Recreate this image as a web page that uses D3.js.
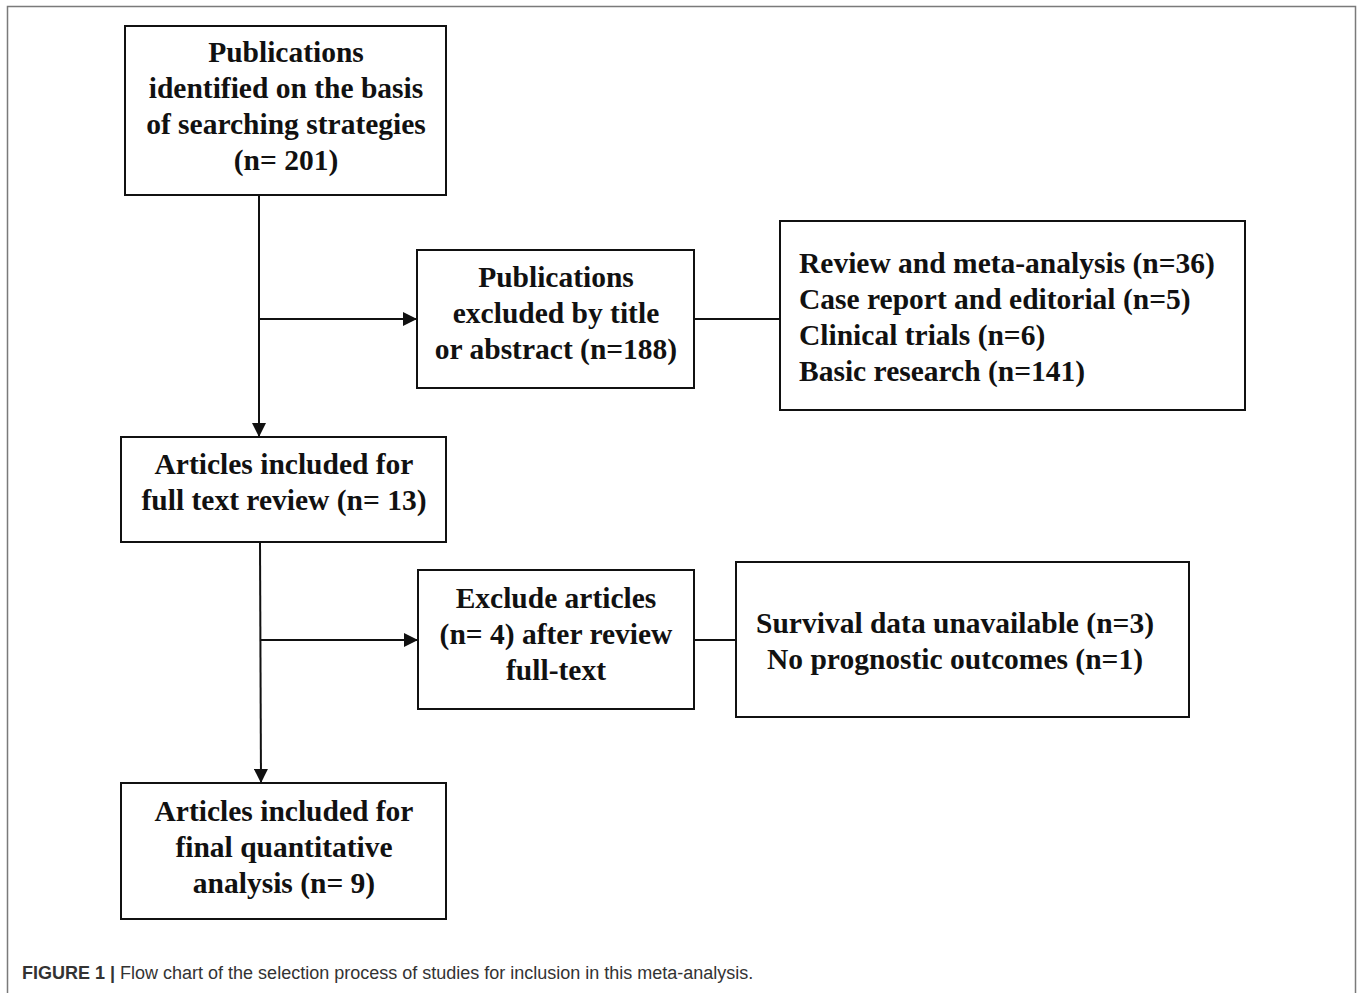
<!DOCTYPE html>
<html>
<head>
<meta charset="utf-8">
<script src="https://cdn.jsdelivr.net/npm/d3@7"></script>
<style>
  body { margin: 0; background: #fff; }
</style>
</head>
<body>
<div class="chart"></div>
<script>
// box texts, one array of lines per box
var boxLabels = [
    ["Publications", "identified on the basis", "of searching strategies", "(n= 201)"],
    ["Publications", "excluded by title", "or abstract (n=188)"],
    ["Review and meta-analysis (n=36)", "Case report and editorial (n=5)", "Clinical trials (n=6)", "Basic research (n=141)"],
    ["Articles included for", "full text review (n= 13)"],
    ["Exclude articles", "(n= 4) after review", "full-text"],
    ["Survival data unavailable (n=3)", "No prognostic outcomes (n=1)"],
    ["Articles included for", "final quantitative", "analysis (n= 9)"]
];
var caption = ["FIGURE 1 |", " Flow chart of the selection process of studies for inclusion in this meta-analysis."];

// layout of boxes: [x0, y0, x1, y1]
var boxes = [
    [125, 26, 446, 195],
    [417, 250, 694, 388],
    [780, 221, 1245, 410],
    [121, 437, 446, 542],
    [418, 570, 694, 709],
    [736, 562, 1189, 717],
    [121, 783, 446, 919]
];
var textAlign = ["middle", "middle", "start", "middle", "middle", "middle", "middle"];
var textX = [286, 556, 799, 284, 556, 955, 284];
var firstLine = [52, 277, 263, 464, 598, 623, 811];
var lineGap = 36;

// connectors: [x1, y1, x2, y2, arrow]
var links = [
    [259, 195, 259, 437, true],
    [259, 319, 417, 319, true],
    [694, 319, 780, 319, false],
    [260, 542, 261, 783, true],
    [260, 640, 418, 640, true],
    [694, 640, 736, 640, false]
];

var width = 1358, height = 993;

var svg = d3.select(".chart").append("svg")
    .attr("width", width)
    .attr("height", height);

svg.append("defs").append("marker")
    .attr("id", "arrow")
    .attr("viewBox", "0 0 10 10")
    .attr("refX", 10).attr("refY", 5)
    .attr("markerWidth", 15).attr("markerHeight", 14)
    .attr("markerUnits", "userSpaceOnUse")
    .attr("orient", "auto")
    .append("path")
    .attr("d", "M0,0 L10,5 L0,10 Z")
    .attr("fill", "#111");

// outer frame of the figure
svg.append("rect")
    .attr("x", 7.5).attr("y", 6.5)
    .attr("width", 1348).attr("height", 1000)
    .attr("fill", "none")
    .attr("stroke", "#7a7a7a")
    .attr("stroke-width", 1.5);

svg.selectAll("line.link")
    .data(links)
    .enter().append("line")
    .attr("class", "link")
    .attr("x1", function(d) { return d[0]; })
    .attr("y1", function(d) { return d[1]; })
    .attr("x2", function(d) { return d[2]; })
    .attr("y2", function(d) { return d[3]; })
    .attr("stroke", "#111")
    .attr("stroke-width", 2)
    .attr("marker-end", function(d) { return d[4] ? "url(#arrow)" : null; });

var g = svg.selectAll("g.box")
    .data(boxLabels)
    .enter().append("g")
    .attr("class", "box");

g.append("rect")
    .attr("x", function(d, i) { return boxes[i][0]; })
    .attr("y", function(d, i) { return boxes[i][1]; })
    .attr("width", function(d, i) { return boxes[i][2] - boxes[i][0]; })
    .attr("height", function(d, i) { return boxes[i][3] - boxes[i][1]; })
    .attr("fill", "#fff")
    .attr("stroke", "#111")
    .attr("stroke-width", 2);

g.each(function(lines, i) {
    d3.select(this).selectAll("text")
        .data(lines)
        .enter().append("text")
        .attr("x", textX[i])
        .attr("y", function(d, j) { return firstLine[i] + j * lineGap; })
        .attr("dy", "0.35em")
        .attr("text-anchor", textAlign[i])
        .style("font-family", "'Liberation Serif', 'Times New Roman', serif")
        .style("font-weight", "bold")
        .style("font-size", "29.5px")
        .attr("fill", "#111")
        .text(function(d) { return d; });
});

var cap = svg.append("text")
    .attr("x", 22).attr("y", 979)
    .style("font-family", "'Liberation Sans', Arial, sans-serif")
    .style("font-size", "18px")
    .attr("fill", "#333");
cap.append("tspan").style("font-weight", "bold").text(caption[0]);
cap.append("tspan").text(caption[1]);
</script>
</body>
</html>
